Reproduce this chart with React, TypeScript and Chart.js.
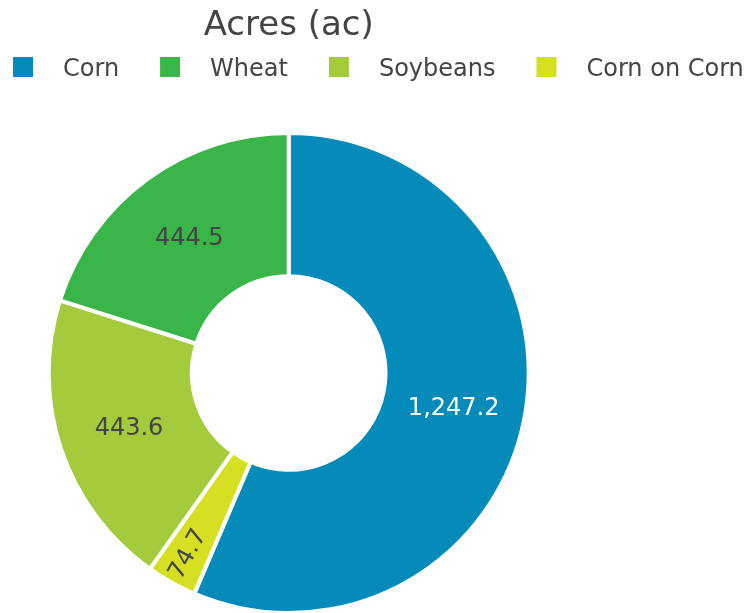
import React, { useEffect, useRef } from "react";
import { Chart, registerables } from "chart.js";

Chart.register(...registerables);

// Slice order (clockwise from 12 o'clock)
const categories = ["Corn", "Corn on Corn", "Soybeans", "Wheat"];
const acres = [1247.2, 74.7, 443.6, 444.5];
const sliceColors = ["#048bba", "#d7df23", "#a3cb3c", "#3ab54a"];
const labelColors = ["#ffffff", "#444444", "#444444", "#444444"];
// Legend order
const legendOrder = ["Corn", "Wheat", "Soybeans", "Corn on Corn"];
const titleText = "Acres (ac)";

const FONT = "'DejaVu Sans', Verdana, sans-serif";

const fmt = (v: number) =>
  v.toLocaleString("en-US", { minimumFractionDigits: 1, maximumFractionDigits: 1 });

const overlayPlugin = {
  id: "overlay",
  afterDatasetsDraw(chart: any) {
    const ctx = chart.ctx as CanvasRenderingContext2D;
    const meta = chart.getDatasetMeta(0);
    ctx.save();
    // slice labels
    meta.data.forEach((arc: any, i: number) => {
      const p = arc.getProps(["x", "y", "startAngle", "endAngle", "innerRadius", "outerRadius"], true);
      const mid = (p.startAngle + p.endAngle) / 2;
      const span = p.endAngle - p.startAngle;
      const text = fmt(acres[i]);
      ctx.font = `24px ${FONT}`;
      ctx.fillStyle = labelColors[i];
      ctx.textAlign = "center";
      ctx.textBaseline = "middle";
      if (span < 0.5) {
        const w = ctx.measureText(text).width;
        const r = p.outerRadius - w / 2 - 6;
        const x = p.x + Math.cos(mid) * r;
        const y = p.y + Math.sin(mid) * r;
        ctx.save();
        ctx.translate(x, y);
        ctx.rotate(mid + Math.PI);
        ctx.fillText(text, 0, 1);
        ctx.restore();
      } else {
        const r = (p.innerRadius + p.outerRadius) / 2;
        const x = p.x + Math.cos(mid) * r;
        const y = p.y + Math.sin(mid) * r;
        ctx.fillText(text, x, y + 2);
      }
    });
    // title
    ctx.font = `34px ${FONT}`;
    ctx.fillStyle = "#444444";
    ctx.textAlign = "center";
    ctx.textBaseline = "alphabetic";
    const cx = meta.data[0] ? meta.data[0].x : 289;
    ctx.fillText(titleText, cx, 35);
    // legend
    ctx.font = `24px ${FONT}`;
    ctx.textAlign = "left";
    let x = 13;
    legendOrder.forEach((name) => {
      const idx = categories.indexOf(name);
      ctx.fillStyle = sliceColors[idx];
      ctx.fillRect(x, 57, 20, 20);
      ctx.fillStyle = "#444444";
      ctx.fillText(name, x + 50, 76);
      x = x + 50 + ctx.measureText(name).width + 41;
    });
    ctx.restore();
  },
};

export default function App() {
  const ref = useRef<HTMLCanvasElement>(null);
  useEffect(() => {
    if (!ref.current) return;
    const chart = new Chart(ref.current, {
      type: "doughnut",
      data: {
        labels: categories,
        datasets: [
          {
            data: acres,
            backgroundColor: sliceColors,
            borderColor: "#ffffff",
            borderWidth: 4,
          },
        ],
      },
      options: {
        animation: false,
        responsive: false,
        radius: 240,
        cutout: 96,
        layout: { padding: { left: 0, right: 167.6, top: 133, bottom: 0 } },
        plugins: {
          legend: { display: false },
          title: { display: false },
          tooltip: { enabled: false },
        },
      },
      plugins: [overlayPlugin],
    });
    return () => chart.destroy();
  }, []);
  return (
    <div style={{ position: "fixed", left: 0, top: 0, width: 745, height: 613, background: "#fff" }}>
      <canvas ref={ref} width={745} height={613} style={{ width: 745, height: 613 }} />
    </div>
  );
}
